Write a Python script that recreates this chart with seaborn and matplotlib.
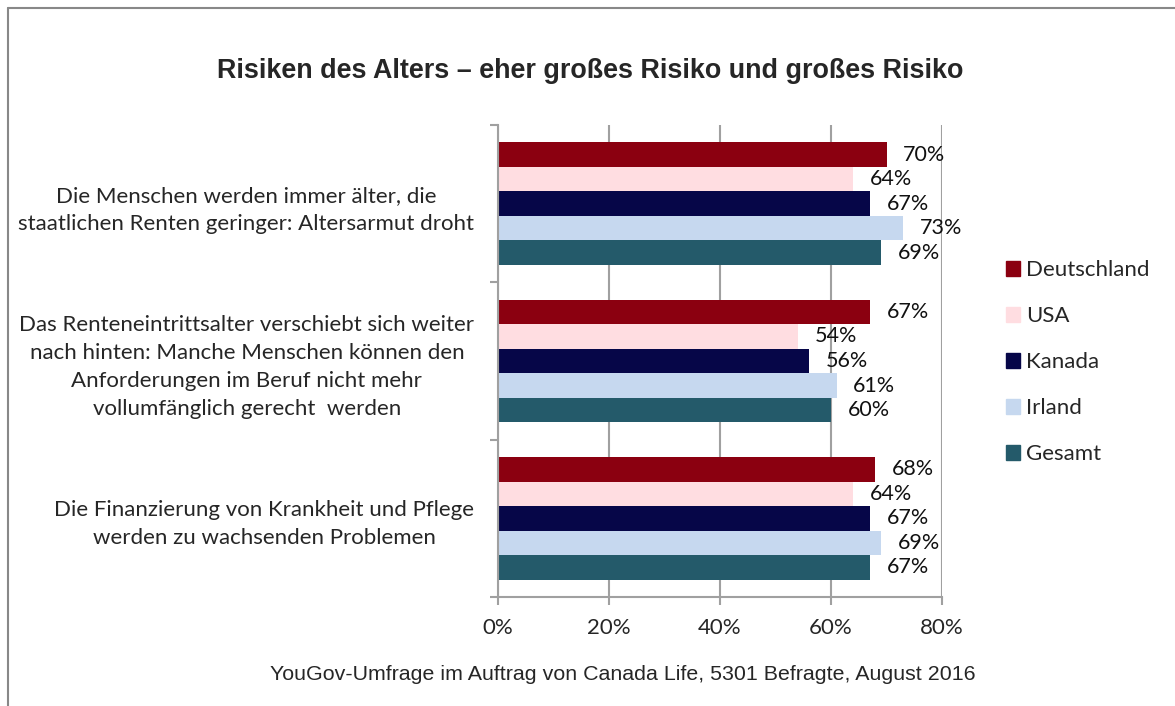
import pandas as pd
import matplotlib.pyplot as plt
import matplotlib.patches as mpatches
from matplotlib.lines import Line2D
from matplotlib.ticker import FuncFormatter, FixedLocator
import seaborn as sns

# Data
fragen = [
    'Die Menschen werden immer älter, die\nstaatlichen Renten geringer: Altersarmut droht',
    'Das Renteneintrittsalter verschiebt sich weiter\nnach hinten: Manche Menschen können den\nAnforderungen im Beruf nicht mehr\nvollumfänglich gerecht  werden',
    'Die Finanzierung von Krankheit und Pflege\nwerden zu wachsenden Problemen',
]
laender = ['Deutschland', 'USA', 'Kanada', 'Irland', 'Gesamt']
deutschland = [70, 67, 68]
usa = [64, 54, 64]
kanada = [67, 56, 67]
irland = [73, 61, 69]
gesamt = [69, 60, 67]
farben = ['#8B0010', '#FFDDE1', '#060648', '#C6D8EF', '#245A6A']

title = 'Risiken des Alters – eher großes Risiko und großes Risiko'
quelle = 'YouGov-Umfrage im Auftrag von Canada Life, 5301 Befragte, August 2016'

# Long format table for seaborn
werte = {'Deutschland': deutschland, 'USA': usa, 'Kanada': kanada,
         'Irland': irland, 'Gesamt': gesamt}
rows = []
for land in laender:
    for frage, w in zip(fragen, werte[land]):
        rows.append({'frage': frage, 'land': land, 'wert': w})
df = pd.DataFrame(rows)

sns.set_style('white')
plt.rcParams['font.family'] = ['Lato', 'DejaVu Sans']

fig = plt.figure(figsize=(11.75, 7.06), dpi=100)
ax = fig.add_axes([498 / 1175, 1 - 597 / 706, 444 / 1175, 472 / 706])

sns.barplot(data=df, y='frage', x='wert', hue='land', orient='h',
            order=fragen, hue_order=laender, palette=farben,
            saturation=1, width=0.78, ax=ax, errorbar=None, legend=False,
            linewidth=0)

for cont in ax.containers:
    ax.bar_label(cont, labels=[f'{int(b.get_width())}%' for b in cont],
                 padding=12, fontsize=15.5, color='#111111')

ax.set_xlim(0, 80)
ax.set_ylim(2.5, -0.5)
ax.set_xticks([0, 20, 40, 60, 80])
ax.xaxis.set_major_formatter(FuncFormatter(lambda v, p: f'{int(v)}%'))
ax.set_xlabel('')
ax.set_ylabel('')

# vertical gridlines
ax.grid(axis='x', color='#A0A0A0', linewidth=1.5)
ax.set_axisbelow(True)

# y ticks at category boundaries, labels at centers
ax.yaxis.set_minor_locator(FixedLocator([-0.5, 0.5, 1.5, 2.5]))
ax.tick_params(axis='y', which='major', length=0, pad=17, labelsize=16)
ax.tick_params(axis='y', which='minor', length=6, width=1.5, color='#A0A0A0', left=True)
ax.tick_params(axis='x', length=6, width=1.5, color='#A0A0A0', bottom=True,
               labelsize=16, pad=9)
for lab in ax.get_yticklabels():
    lab.set_multialignment('center')
    lab.set_linespacing(1.5)

for side in ['top', 'right']:
    ax.spines[side].set_visible(False)
for side in ['left', 'bottom']:
    ax.spines[side].set_color('#A0A0A0')
    ax.spines[side].set_linewidth(1.5)

# legend
handles = [mpatches.Patch(color=c, label=l) for c, l in zip(farben, laender)]
fig.legend(handles=handles, loc='center left',
           bbox_to_anchor=(986 / 1175, 1 - 362 / 706), frameon=False,
           fontsize=16, handlelength=0.65, handleheight=0.65,
           handletextpad=0.25, labelspacing=1.17)

fig.text(590 / 1175, 1 - 71 / 706, title, ha='center', va='center',
         fontsize=19.4, fontweight='bold', family='Liberation Sans')
fig.text(623 / 1175, 1 - 675 / 706, quelle, ha='center', va='center',
         fontsize=15.4, family='Liberation Sans')

# chart frame (only top and left visible)
fig.add_artist(Line2D([8 / 1175, 8 / 1175], [0, 1 - 8 / 706],
                      transform=fig.transFigure, color='#888888', linewidth=1.5))
fig.add_artist(Line2D([8 / 1175, 1], [1 - 8 / 706, 1 - 8 / 706],
                      transform=fig.transFigure, color='#888888', linewidth=1.5))

fig.savefig('out.png', dpi=100)
